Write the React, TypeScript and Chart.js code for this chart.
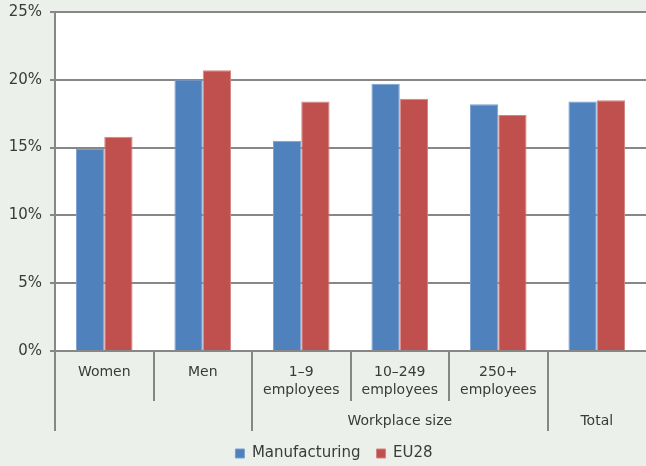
import React, { useEffect, useRef } from "react";
import { Chart, registerables } from "chart.js";

Chart.register(...registerables);

const categories: (string | string[])[] = [
  "Women",
  "Men",
  ["1–9", "employees"],
  ["10–249", "employees"],
  ["250+", "employees"],
  "",
];
const groupLabels = ["", "Workplace size", "Total"];
const groupSpans = [2, 3, 1];
const manufacturing = [14.9, 20.0, 15.5, 19.7, 18.2, 18.4];
const eu28 = [15.8, 20.7, 18.4, 18.6, 17.4, 18.5];
const yTicks = [0, 5, 10, 15, 20, 25];

const FONT = "'DejaVu Sans', sans-serif";
const TEXT = "#3a3a3a";
const GRID = "#878787";
const BG = "#ebf1ea";

const bgPlugin = {
  id: "bgPlugin",
  afterLayout(chart: any) {
    // let the y-axis labels use the space left of the axis box
    if (chart.scales.y) chart.scales.y.left = 0;
  },
  beforeDraw(chart: any) {
    const { ctx, chartArea } = chart;
    ctx.save();
    ctx.fillStyle = BG;
    ctx.fillRect(0, 0, chart.width, chart.height);
    ctx.fillStyle = "#ffffff";
    ctx.fillRect(chartArea.left, chartArea.top, chartArea.right - chartArea.left, chartArea.bottom - chartArea.top);
    ctx.restore();
  },
};

const groupAxisPlugin = {
  id: "groupAxisPlugin",
  afterDraw(chart: any) {
    const { ctx, chartArea } = chart;
    const xs = chart.scales.x;
    const n = categories.length;
    const boundary = (i: number) => {
      if (i === 0) return chartArea.left;
      if (i === n) return chartArea.right;
      return (xs.getPixelForValue(i - 1) + xs.getPixelForValue(i)) / 2;
    };
    const longIdx = new Set<number>();
    let acc = 0;
    longIdx.add(0);
    groupSpans.forEach((s) => {
      acc += s;
      longIdx.add(acc);
    });
    ctx.save();
    ctx.strokeStyle = GRID;
    ctx.lineWidth = 2;
    for (let i = 0; i < n; i++) {
      const x = Math.round(boundary(i));
      const len = longIdx.has(i) ? 80 : 50;
      ctx.beginPath();
      ctx.moveTo(x, chartArea.bottom);
      ctx.lineTo(x, chartArea.bottom + len);
      ctx.stroke();
    }
    ctx.fillStyle = TEXT;
    ctx.font = `14px ${FONT}`;
    ctx.textAlign = "center";
    ctx.textBaseline = "middle";
    let start = 0;
    groupLabels.forEach((lab, gi) => {
      const end = start + groupSpans[gi];
      if (lab) {
        const cx = (boundary(start) + boundary(end)) / 2;
        ctx.fillText(lab, cx, chartArea.bottom + 70);
      }
      start = end;
    });
    ctx.restore();
  },
};

export default function App() {
  const ref = useRef<HTMLCanvasElement>(null);
  useEffect(() => {
    if (!ref.current) return;
    const chart = new Chart(ref.current, {
      type: "bar",
      data: {
        labels: categories,
        datasets: [
          {
            label: "Manufacturing",
            data: manufacturing,
            backgroundColor: "#4f81bd",
            borderColor: "#7a9fd0",
            borderWidth: 1,
          },
          {
            label: "EU28",
            data: eu28,
            backgroundColor: "#c0504d",
            borderColor: "#d48583",
            borderWidth: 1,
          },
        ],
      },
      options: {
        responsive: false,
        animation: false,
        devicePixelRatio: 1,
        layout: { padding: { left: 22, right: 0, top: 12, bottom: -5 } },
        datasets: {
          bar: { categoryPercentage: 0.575, barPercentage: 1.0 },
        },
        plugins: {
          legend: {
            position: "bottom",
            labels: {
              boxWidth: 9,
              boxHeight: 9,
              padding: 16,
              color: TEXT,
              font: { family: FONT, size: 15 },
            },
          },
          tooltip: { enabled: false },
        },
        scales: {
          x: {
            grid: { display: false, drawTicks: false },
            border: { display: false },
            ticks: {
              color: TEXT,
              font: { family: FONT, size: 14, lineHeight: 1.3 },
              padding: 12,
              maxRotation: 0,
              autoSkip: false,
            },
            afterFit(scale: any) {
              scale.height = 79;
            },
          },
          y: {
            min: 0,
            max: 25,
            afterBuildTicks(scale: any) {
              scale.ticks = yTicks.map((v) => ({ value: v }));
            },
            grid: { color: GRID, lineWidth: 2, drawTicks: true, tickLength: 5 },
            border: { display: true, color: GRID, width: 2 },
            ticks: {
              color: TEXT,
              font: { family: FONT, size: 15 },
              padding: 8,
              callback: (v: any) => `${v}%`,
            },
            afterFit(scale: any) {
              scale.width = 33;
              scale.paddingTop = 0;
              scale.paddingBottom = 0;
            },
          },
        },
      },
      plugins: [bgPlugin, groupAxisPlugin],
    });
    return () => chart.destroy();
  }, []);
  return (
    <div style={{ position: "absolute", left: 0, top: 0, width: 646, height: 466 }}>
      <canvas ref={ref} width={646} height={466} />
    </div>
  );
}
